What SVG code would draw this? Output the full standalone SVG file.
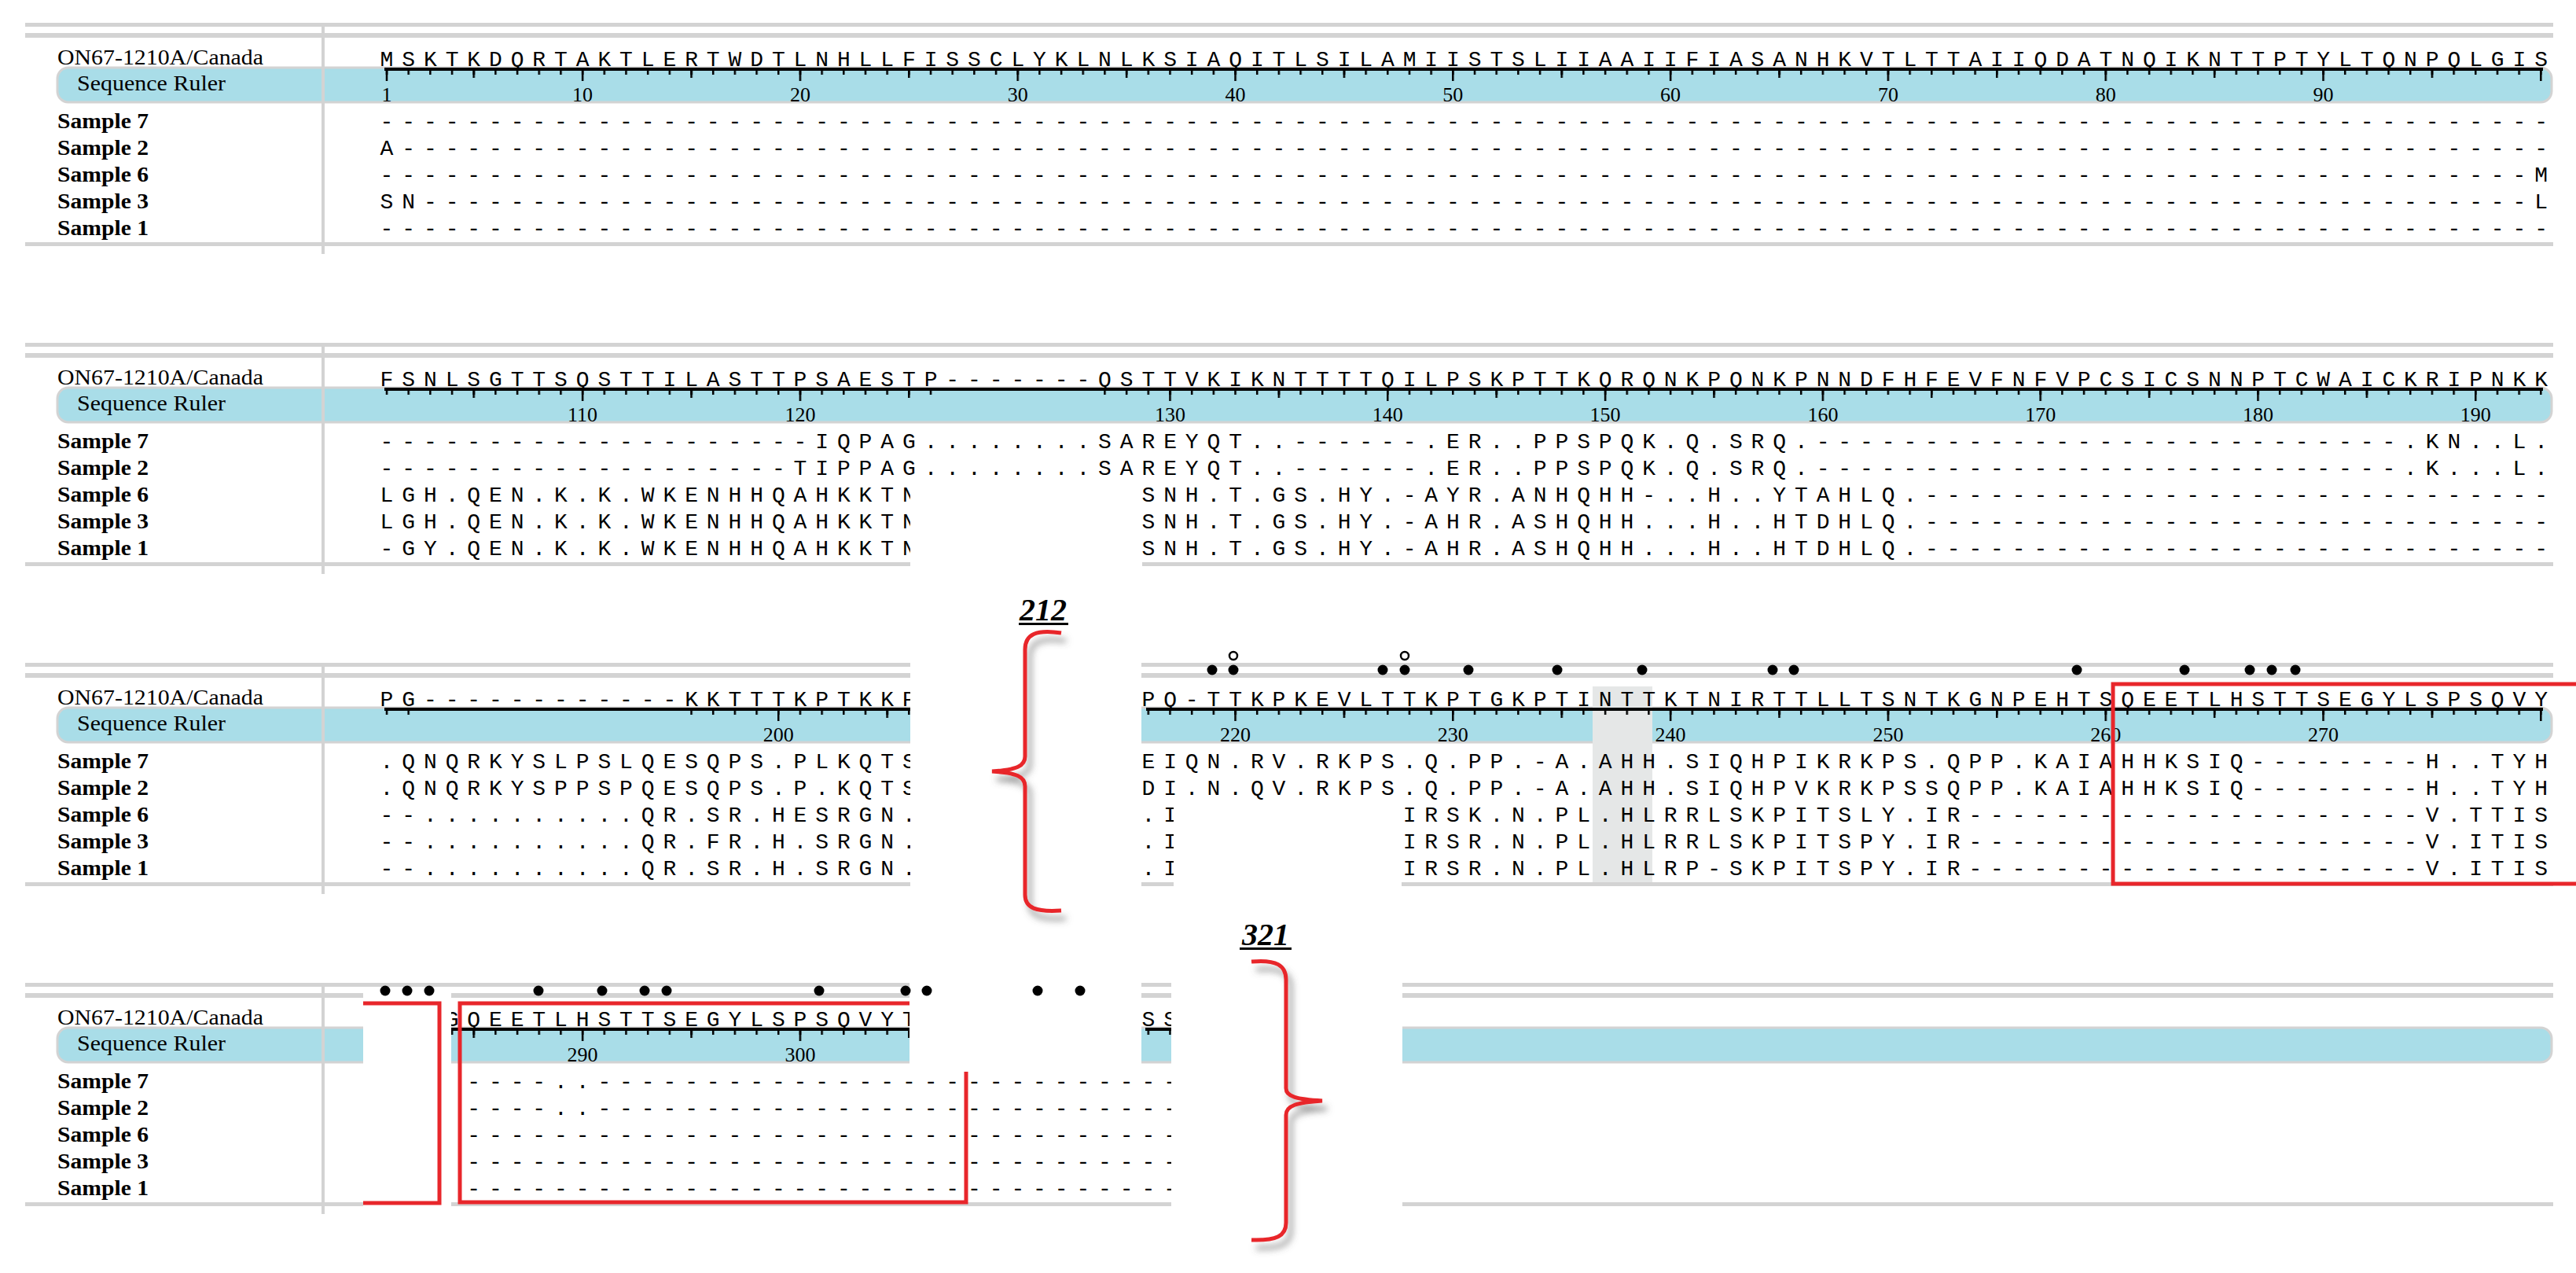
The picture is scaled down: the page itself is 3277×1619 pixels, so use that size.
<svg xmlns="http://www.w3.org/2000/svg" width="3277" height="1619" viewBox="0 0 3277 1619">
<style>
.ln{fill:#d3d3d3}
.band{fill:#a9dde8;stroke:#d3d3d3;stroke-width:3}
.seq{font-family:"Liberation Mono",monospace;font-size:28px;letter-spacing:10.88px;white-space:pre}
.lab{font-family:"Liberation Serif",serif;font-size:27px}
.sl{font-weight:bold}
.num{font-family:"Liberation Serif",serif;font-size:26px;text-anchor:middle}
.red{fill:none;stroke:#e8262b;stroke-width:5}
.brace{fill:none;stroke:#e8262b;stroke-width:5;filter:url(#sh)}
.big{font-family:"Liberation Serif",serif;font-size:40px;font-weight:bold;font-style:italic;text-anchor:middle}
.wh{fill:#fff}
</style>
<defs>
<filter id="sh" x="-50%" y="-10%" width="200%" height="120%"><feDropShadow dx="6" dy="10" stdDeviation="4" flood-color="#555" flood-opacity="0.6"/></filter>
<pattern id="ts" patternUnits="userSpaceOnUse" x="490.75" y="90" width="27.68" height="20"><rect width="2.5" height="5"/></pattern>
<pattern id="pm9" patternUnits="userSpaceOnUse" x="601.47" y="90" width="276.8" height="20"><rect width="2.5" height="9"/></pattern>
<pattern id="pM9" patternUnits="userSpaceOnUse" x="739.87" y="90" width="276.8" height="20"><rect width="2.5" height="13"/></pattern>
<pattern id="pm6" patternUnits="userSpaceOnUse" x="518.43" y="90" width="276.8" height="20"><rect width="2.5" height="9"/></pattern>
<pattern id="pM6" patternUnits="userSpaceOnUse" x="656.83" y="90" width="276.8" height="20"><rect width="2.5" height="13"/></pattern>
<pattern id="pm8" patternUnits="userSpaceOnUse" x="573.79" y="90" width="276.8" height="20"><rect width="2.5" height="9"/></pattern>
<pattern id="pM8" patternUnits="userSpaceOnUse" x="712.19" y="90" width="276.8" height="20"><rect width="2.5" height="13"/></pattern>
</defs>

<g id="block1">
<rect class="ln" x="32" y="29" width="3216" height="5"/>
<rect class="ln" x="32" y="42" width="3216" height="6"/>
<rect class="ln" x="32" y="308" width="3216" height="5"/>
<rect class="band" x="73" y="86" width="3173" height="44" rx="14"/>
<rect class="ln" x="409" y="33" width="4" height="290"/>
<text class="lab" x="73" y="82" textLength="262" lengthAdjust="spacingAndGlyphs">ON67-1210A/Canada</text>
<text class="lab" x="98" y="115" font-size="25" textLength="189" lengthAdjust="spacingAndGlyphs">Sequence Ruler</text>
<text class="lab sl" x="73" y="163" textLength="116" lengthAdjust="spacingAndGlyphs">Sample 7</text>
<text class="lab sl" x="73" y="197" textLength="116" lengthAdjust="spacingAndGlyphs">Sample 2</text>
<text class="lab sl" x="73" y="231" textLength="116" lengthAdjust="spacingAndGlyphs">Sample 6</text>
<text class="lab sl" x="73" y="265" textLength="116" lengthAdjust="spacingAndGlyphs">Sample 3</text>
<text class="lab sl" x="73" y="299" textLength="116" lengthAdjust="spacingAndGlyphs">Sample 1</text>
<rect x="489" y="86" width="2746" height="4"/>
<rect x="490" y="90" width="2744.3" height="16" fill="url(#ts)"/>
<rect x="490" y="90" width="2744.3" height="16" fill="url(#pm9)"/>
<rect x="490" y="90" width="2744.3" height="16" fill="url(#pM9)"/>
<rect x="490.75" y="90" width="2.5" height="13"/>
<text class="num" x="492" y="129">1</text><text class="num" x="741.1" y="129">10</text><text class="num" x="1017.9" y="129">20</text><text class="num" x="1294.7" y="129">30</text><text class="num" x="1571.5" y="129">40</text><text class="num" x="1848.3" y="129">50</text><text class="num" x="2125.1" y="129">60</text><text class="num" x="2401.9" y="129">70</text><text class="num" x="2678.7" y="129">80</text><text class="num" x="2955.5" y="129">90</text>
<text class="seq" x="483.6" y="84" xml:space="preserve">MSKTKDQRTAKTLERTWDTLNHLLFISSCLYKLNLKSIAQITLSILAMIISTSLIIAAIIFIASANHKVTLTTAIIQDATNQIKNTTPTYLTQNPQLGIS</text>
<text class="seq" x="483.6" y="163" xml:space="preserve">----------------------------------------------------------------------------------------------------</text>
<text class="seq" x="483.6" y="197" xml:space="preserve">A---------------------------------------------------------------------------------------------------</text>
<text class="seq" x="483.6" y="231" xml:space="preserve">---------------------------------------------------------------------------------------------------M</text>
<text class="seq" x="483.6" y="265" xml:space="preserve">SN-------------------------------------------------------------------------------------------------L</text>
<text class="seq" x="483.6" y="299" xml:space="preserve">----------------------------------------------------------------------------------------------------</text>
</g>

<g id="block2" transform="translate(0,407)">
<rect class="ln" x="32" y="29" width="3216" height="5"/>
<rect class="ln" x="32" y="42" width="3216" height="6"/>
<rect class="ln" x="32" y="308" width="3216" height="5"/>
<rect class="band" x="73" y="86" width="3173" height="44" rx="14"/>
<rect class="ln" x="409" y="33" width="4" height="290"/>
<text class="lab" x="73" y="82" textLength="262" lengthAdjust="spacingAndGlyphs">ON67-1210A/Canada</text>
<text class="lab" x="98" y="115" font-size="25" textLength="189" lengthAdjust="spacingAndGlyphs">Sequence Ruler</text>
<text class="lab sl" x="73" y="163" textLength="116" lengthAdjust="spacingAndGlyphs">Sample 7</text>
<text class="lab sl" x="73" y="197" textLength="116" lengthAdjust="spacingAndGlyphs">Sample 2</text>
<text class="lab sl" x="73" y="231" textLength="116" lengthAdjust="spacingAndGlyphs">Sample 6</text>
<text class="lab sl" x="73" y="265" textLength="116" lengthAdjust="spacingAndGlyphs">Sample 3</text>
<text class="lab sl" x="73" y="299" textLength="116" lengthAdjust="spacingAndGlyphs">Sample 1</text>
<rect x="489" y="86" width="2746" height="4"/>
<rect x="490" y="90" width="696" height="16" fill="url(#ts)"/>
<rect x="490" y="90" width="696" height="16" fill="url(#pm9)"/>
<rect x="490" y="90" width="696" height="16" fill="url(#pM9)"/>
<rect x="1403.4" y="90" width="1830.9" height="16" fill="url(#ts)"/>
<rect x="1403.4" y="90" width="1830.9" height="16" fill="url(#pm6)"/>
<rect x="1403.4" y="90" width="1830.9" height="16" fill="url(#pM6)"/>
<text class="num" x="741.1" y="129">110</text><text class="num" x="1017.9" y="129">120</text><text class="num" x="1488.5" y="129">130</text><text class="num" x="1765.3" y="129">140</text><text class="num" x="2042.1" y="129">150</text><text class="num" x="2318.9" y="129">160</text><text class="num" x="2595.7" y="129">170</text><text class="num" x="2872.5" y="129">180</text><text class="num" x="3149.3" y="129">190</text>
<text class="seq" x="483.6" y="84" xml:space="preserve">FSNLSGTTSQSTTILASTTPSAESTP-------QSTTVKIKNTTTTQILPSKPTTKQRQNKPQNKPNNDFHFEVFNFVPCSICSNNPTCWAICKRIPNKK</text>
<text class="seq" x="483.6" y="163" xml:space="preserve">--------------------IQPAG........SAREYQT..------.ER..PPSPQK.Q.SRQ.---------------------------.KN..L.</text>
<text class="seq" x="483.6" y="197" xml:space="preserve">-------------------TIPPAG........SAREYQT..------.ER..PPSPQK.Q.SRQ.---------------------------.K...L.</text>
<text class="seq" x="483.6" y="231" xml:space="preserve">LGH.QEN.K.K.WKENHHQAHKKTN          SNH.T.GS.HY.-AYR.ANHQHH-..H..YTAHLQ.-----------------------------</text>
<text class="seq" x="483.6" y="265" xml:space="preserve">LGH.QEN.K.K.WKENHHQAHKKTN          SNH.T.GS.HY.-AHR.ASHQHH...H..HTDHLQ.-----------------------------</text>
<text class="seq" x="483.6" y="299" xml:space="preserve">-GY.QEN.K.K.WKENHHQAHKKTN          SNH.T.GS.HY.-AHR.ASHQHH...H..HTDHLQ.-----------------------------</text>
<rect class="wh" x="1158" y="205" width="295" height="116"/>
</g>

<g id="block3" transform="translate(0,814)">
<rect class="ln" x="32" y="29" width="3216" height="5"/>
<rect class="ln" x="32" y="42" width="3216" height="6"/>
<rect class="ln" x="32" y="308" width="3216" height="5"/>
<rect class="band" x="73" y="86" width="3173" height="44" rx="14"/>
<rect class="ln" x="409" y="33" width="4" height="290"/>
<rect x="2026" y="59" width="76" height="249" fill="#e5e7e7"/>
<text class="lab" x="73" y="82" textLength="262" lengthAdjust="spacingAndGlyphs">ON67-1210A/Canada</text>
<text class="lab" x="98" y="115" font-size="25" textLength="189" lengthAdjust="spacingAndGlyphs">Sequence Ruler</text>
<text class="lab sl" x="73" y="163" textLength="116" lengthAdjust="spacingAndGlyphs">Sample 7</text>
<text class="lab sl" x="73" y="197" textLength="116" lengthAdjust="spacingAndGlyphs">Sample 2</text>
<text class="lab sl" x="73" y="231" textLength="116" lengthAdjust="spacingAndGlyphs">Sample 6</text>
<text class="lab sl" x="73" y="265" textLength="116" lengthAdjust="spacingAndGlyphs">Sample 3</text>
<text class="lab sl" x="73" y="299" textLength="116" lengthAdjust="spacingAndGlyphs">Sample 1</text>
<rect x="489" y="86" width="669" height="4"/>
<rect x="1458" y="86" width="1777" height="4"/>
<rect x="490" y="90" width="31.7" height="16" fill="url(#ts)"/>
<rect x="877.5" y="90" width="280.8" height="16" fill="url(#ts)"/>
<rect x="877.5" y="90" width="280.8" height="16" fill="url(#pm8)"/>
<rect x="877.5" y="90" width="280.8" height="16" fill="url(#pM8)"/>
<rect x="1458.8" y="90" width="1775.5" height="16" fill="url(#ts)"/>
<rect x="1458.8" y="90" width="1775.5" height="16" fill="url(#pm9)"/>
<rect x="1458.8" y="90" width="1775.5" height="16" fill="url(#pM9)"/>
<text class="num" x="990.2" y="129">200</text><text class="num" x="1571.5" y="129">220</text><text class="num" x="1848.3" y="129">230</text><text class="num" x="2125.1" y="129">240</text><text class="num" x="2401.9" y="129">250</text><text class="num" x="2678.7" y="129">260</text><text class="num" x="2955.5" y="129">270</text>
<text class="seq" x="483.6" y="84" xml:space="preserve">PG------------KKTTTKPTKKP          PQ-TTKPKEVLTTKPTGKPTINTTKTNIRTTLLTSNTKGNPEHTSQEETLHSTTSEGYLSPSQVY</text>
<text class="seq" x="483.6" y="163" xml:space="preserve">.QNQRKYSLPSLQESQPS.PLKQTS          EIQN.RV.RKPS.Q.PP.-A.AHH.SIQHPIKRKPS.QPP.KAIAHHKSIQ--------H..TYH</text>
<text class="seq" x="483.6" y="197" xml:space="preserve">.QNQRKYSPPSPQESQPS.P.KQTS          DI.N.QV.RKPS.Q.PP.-A.AHH.SIQHPVKRKPSSQPP.KAIAHHKSIQ--------H..TYH</text>
<text class="seq" x="483.6" y="231" xml:space="preserve">--..........QR.SR.HESRGN.          .I          IRSK.N.PL.HLRRLSKPITSLY.IR---------------------V.TTIS</text>
<text class="seq" x="483.6" y="265" xml:space="preserve">--..........QR.FR.H.SRGN.          .I          IRSR.N.PL.HLRRLSKPITSPY.IR---------------------V.ITIS</text>
<text class="seq" x="483.6" y="299" xml:space="preserve">--..........QR.SR.H.SRGN.          .I          IRSR.N.PL.HLRP-SKPITSPY.IR---------------------V.ITIS</text>
<rect class="wh" x="1158" y="24" width="294" height="300"/>
<rect class="wh" x="1493" y="207" width="290" height="117"/>
<rect x="2026" y="207" width="76" height="101" fill="#e5e7e7" opacity="0"/>
</g>

<g id="block4" transform="translate(0,1221)">
<rect class="ln" x="32" y="29" width="3216" height="5"/>
<rect class="ln" x="32" y="42" width="3216" height="6"/>
<rect class="ln" x="32" y="308" width="3216" height="5"/>
<rect class="band" x="73" y="86" width="3173" height="44" rx="14"/>
<rect class="ln" x="409" y="33" width="4" height="290"/>
<text class="lab" x="73" y="82" textLength="262" lengthAdjust="spacingAndGlyphs">ON67-1210A/Canada</text>
<text class="lab" x="98" y="115" font-size="25" textLength="189" lengthAdjust="spacingAndGlyphs">Sequence Ruler</text>
<text class="lab sl" x="73" y="163" textLength="116" lengthAdjust="spacingAndGlyphs">Sample 7</text>
<text class="lab sl" x="73" y="197" textLength="116" lengthAdjust="spacingAndGlyphs">Sample 2</text>
<text class="lab sl" x="73" y="231" textLength="116" lengthAdjust="spacingAndGlyphs">Sample 6</text>
<text class="lab sl" x="73" y="265" textLength="116" lengthAdjust="spacingAndGlyphs">Sample 3</text>
<text class="lab sl" x="73" y="299" textLength="116" lengthAdjust="spacingAndGlyphs">Sample 1</text>
<rect x="573" y="86" width="585" height="4"/>
<rect x="1457" y="86" width="33" height="4"/>
<rect x="573" y="90" width="585" height="16" fill="url(#ts)"/>
<rect x="573" y="90" width="585" height="16" fill="url(#pm9)"/>
<rect x="573" y="90" width="585" height="16" fill="url(#pM9)"/>
<rect x="1458.8" y="90" width="31.7" height="16" fill="url(#ts)"/>
<text class="num" x="741.1" y="129">290</text><text class="num" x="1017.9" y="129">300</text>
<text class="seq" x="483.6" y="84" xml:space="preserve">   GQEETLHSTTSEGYLSPSQVYT          SS</text>
<text class="seq" x="483.6" y="163" xml:space="preserve">    ----..---------------------------</text>
<text class="seq" x="483.6" y="197" xml:space="preserve">    ----..---------------------------</text>
<text class="seq" x="483.6" y="231" xml:space="preserve">    ---------------------------------</text>
<text class="seq" x="483.6" y="265" xml:space="preserve">    ---------------------------------</text>
<text class="seq" x="483.6" y="299" xml:space="preserve">    ---------------------------------</text>
<rect class="wh" x="1157" y="24" width="295" height="114"/>
<rect class="wh" x="1490" y="20" width="294" height="305"/>
<rect class="wh" x="462" y="38" width="112" height="287"/>
</g>

<g id="connectors">
<g id="dots3">
<circle cx="1542" cy="852" r="6.5"/><circle cx="1569" cy="852" r="6.5"/><circle cx="1759" cy="852" r="6.5"/><circle cx="1787" cy="852" r="6.5"/><circle cx="1868" cy="852" r="6.5"/><circle cx="1981" cy="852" r="6.5"/><circle cx="2089" cy="852" r="6.5"/><circle cx="2255" cy="852" r="6.5"/><circle cx="2282" cy="852" r="6.5"/><circle cx="2642" cy="852" r="6.5"/><circle cx="2779" cy="852" r="6.5"/><circle cx="2862" cy="852" r="6.5"/><circle cx="2890" cy="852" r="6.5"/><circle cx="2920" cy="852" r="6.5"/>
<circle cx="1569" cy="834" r="5" fill="none" stroke="#000" stroke-width="2.5"/><circle cx="1787" cy="834" r="5" fill="none" stroke="#000" stroke-width="2.5"/>
</g>
<g id="dots4">
<circle cx="490" cy="1260" r="6.5"/><circle cx="518" cy="1260" r="6.5"/><circle cx="546" cy="1260" r="6.5"/><circle cx="685" cy="1260" r="6.5"/><circle cx="766" cy="1260" r="6.5"/><circle cx="820" cy="1260" r="6.5"/><circle cx="848" cy="1260" r="6.5"/><circle cx="1042" cy="1260" r="6.5"/><circle cx="1152" cy="1260" r="6.5"/><circle cx="1179" cy="1260" r="6.5"/><circle cx="1320" cy="1260" r="6.5"/><circle cx="1374" cy="1260" r="6.5"/>
</g>
<path class="red" d="M3290,870 H2688 V1124 H3290"/>
<path class="red" d="M462,1276 H559 V1530 H462"/>
<path class="red" d="M1157,1276 H585 V1529 H1229 V1363" stroke-width="4.5"/>
<path class="brace" d="M1350,805 C1318,800 1304,807 1304,826 L1304,962 C1304,974 1294,979 1262,981 C1294,983 1304,988 1304,1000 L1304,1138 C1304,1155 1318,1160 1350,1158"/>
<path class="brace" d="M1592,1223 C1624,1220 1636,1228 1636,1246 L1636,1384 C1636,1395 1650,1398 1682,1400 C1650,1402 1636,1406 1636,1418 L1636,1555 C1636,1572 1624,1578 1592,1577"/>
<text class="big" x="1327" y="789">212</text>
<rect x="1296" y="792" width="63" height="3"/>
<text class="big" x="1610" y="1202">321</text>
<rect x="1577" y="1205" width="66" height="3"/>
</g>
</svg>
